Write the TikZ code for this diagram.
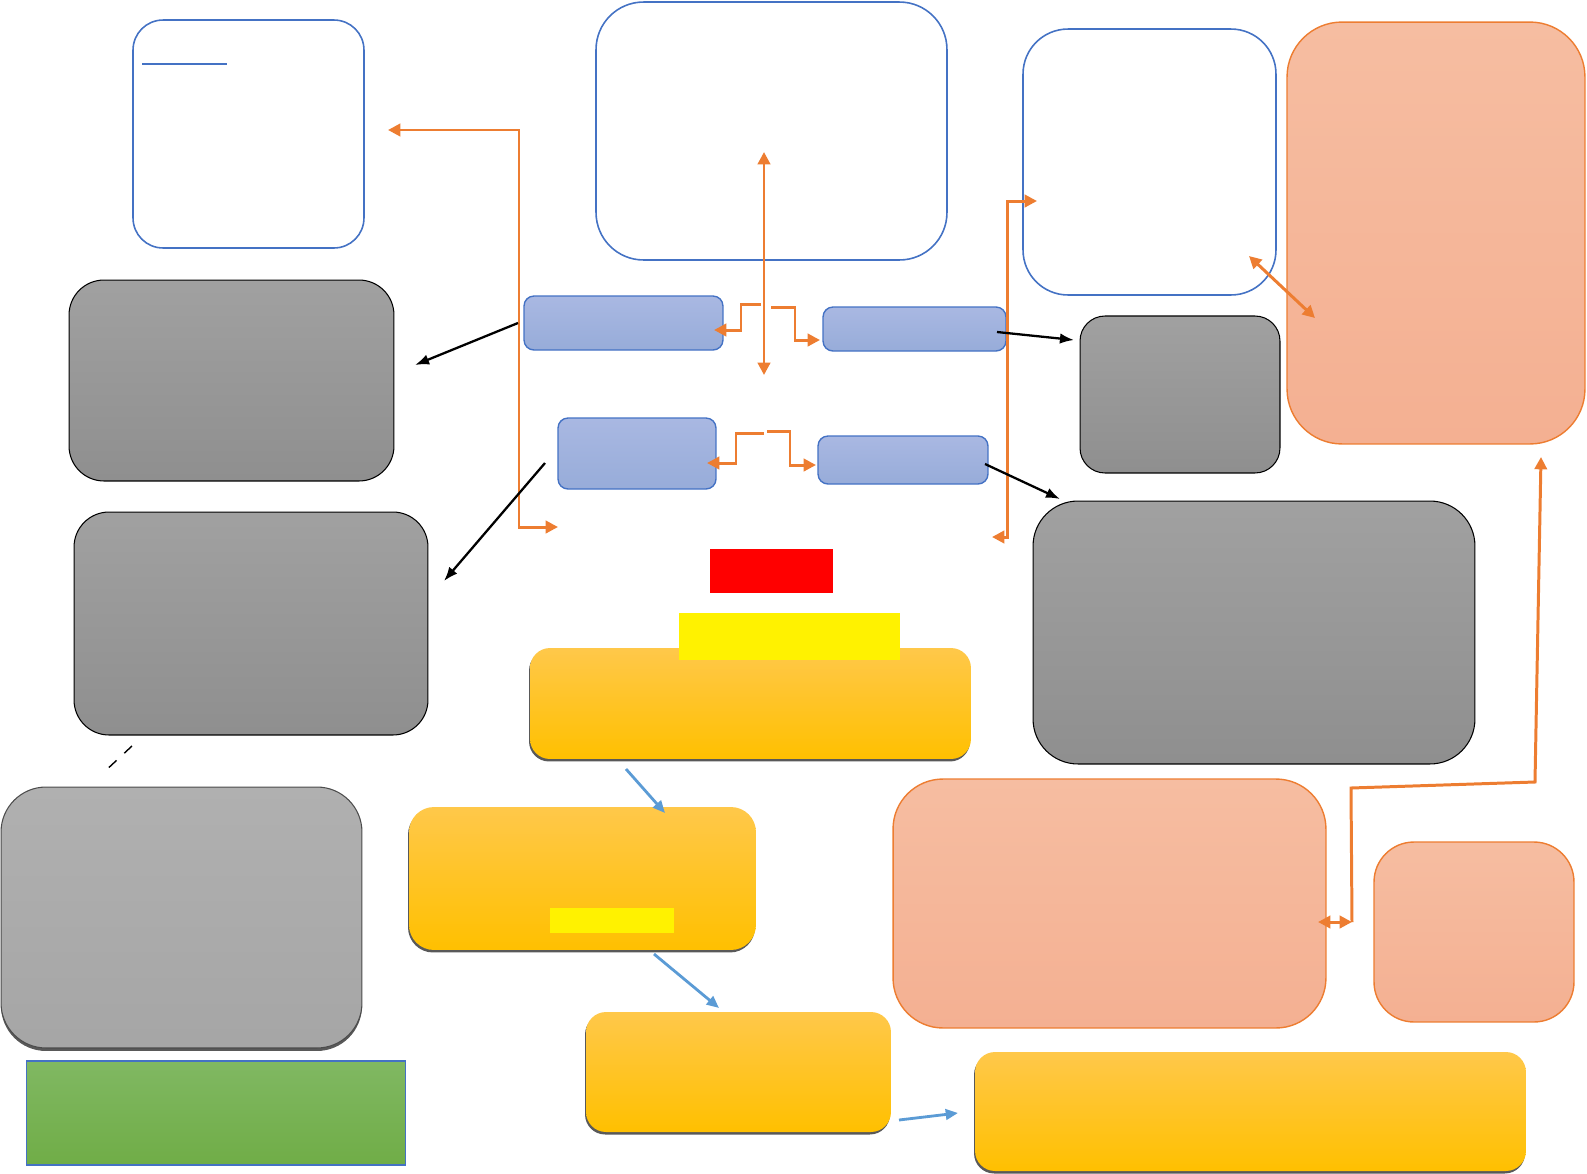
\documentclass[tikz,border=0pt]{standalone}
\usepackage{tikz}
\usetikzlibrary{arrows.meta,shadows}
\definecolor{lineblue}{RGB}{68,114,196}
\definecolor{warmorange}{RGB}{237,125,49}
\definecolor{salmontop}{RGB}{246,189,161}
\definecolor{salmonbot}{RGB}{244,176,146}
\definecolor{chiptop}{RGB}{169,184,226}
\definecolor{chipbot}{RGB}{151,172,217}
\definecolor{ambertop}{RGB}{255,200,74}
\definecolor{amberbot}{RGB}{255,192,0}
\definecolor{skyblue}{RGB}{91,155,213}
\definecolor{leaftop}{RGB}{128,184,98}
\definecolor{leafbot}{RGB}{112,173,71}

\begin{document}
\begin{tikzpicture}[x=0.02cm,y=-0.02cm,>=Latex,
    every node/.style={inner sep=0pt,outer sep=0pt},
    frame/.style={draw=lineblue,line width=0.9pt,fill=white},
    stone/.style={draw=black,line width=0.6pt,top color=black!37,bottom color=black!44},
    peach/.style={draw=warmorange,line width=0.8pt,top color=salmontop,bottom color=salmonbot},
    chip/.style={draw=lineblue,line width=0.8pt,rounded corners=0.2cm,top color=chiptop,bottom color=chipbot},
    amber/.style={rounded corners=0.4cm,top color=ambertop,bottom color=amberbot,
      general shadow={fill=black!65,shadow yshift=-0.05cm,shadow xshift=-0.02cm}},
    olink/.style={draw=warmorange,line width=1.7pt},
    otip/.style={-{Triangle[length=7pt,width=7pt]}},
    otips/.style={{Triangle[length=7pt,width=7pt]}-{Triangle[length=7pt,width=7pt]}},
    blink/.style={draw=black,line width=1.3pt,-{Latex[length=8pt,width=6pt]}},
    slink/.style={draw=skyblue,line width=1.6pt,-{Triangle[length=7pt,width=6pt]}}]
  \useasboundingbox (0,0) rectangle (1587,1174);

  % outlined panels
  \node[frame,rounded corners=0.6cm,minimum width=4.62cm,minimum height=4.56cm] (memo) at (248.5,134) {};
  \draw[lineblue,line width=0.9pt] (142,64) -- (227,64);
  \node[frame,rounded corners=0.95cm,minimum width=7.02cm,minimum height=5.16cm] (hub) at (771.5,131) {};
  \node[frame,rounded corners=0.9cm,minimum width=5.06cm,minimum height=5.32cm] (side) at (1149.5,162) {};
  \node[peach,rounded corners=1.1cm,minimum width=5.96cm,minimum height=8.44cm] (tower) at (1436,233) {};

  % grey blocks
  \node[stone,rounded corners=0.7cm,minimum width=6.5cm,minimum height=4.02cm] (greyA) at (231.5,380.5) {};
  \node[stone,rounded corners=0.7cm,minimum width=7.08cm,minimum height=4.46cm] (greyB) at (251,623.5) {};
  \node[stone,rounded corners=0.5cm,minimum width=4cm,minimum height=3.14cm] (greyC) at (1180,394.5) {};
  \node[stone,rounded corners=0.9cm,minimum width=8.84cm,minimum height=5.26cm] (greyD) at (1254,632.5) {};
  \node[draw=black!70,line width=0.6pt,rounded corners=0.9cm,top color=black!31,bottom color=black!35,
    general shadow={fill=black!65,shadow yshift=-0.06cm},
    minimum width=7.22cm,minimum height=5.22cm] (greyE) at (181.5,917.5) {};
  \node[draw=lineblue,line width=0.6pt,top color=leaftop,bottom color=leafbot,
    minimum width=7.6cm,minimum height=2.08cm] (base) at (216,1113) {};

  % small blue chips
  \node[chip,minimum width=3.98cm,minimum height=1.08cm] (chipA) at (623.5,323) {};
  \node[chip,minimum width=3.66cm,minimum height=0.88cm] (chipB) at (914.5,329) {};
  \node[chip,minimum width=3.16cm,minimum height=1.42cm] (chipC) at (637,453.5) {};
  \node[chip,minimum width=3.4cm,minimum height=0.96cm] (chipD) at (903,460) {};

  % amber chain
  \node[amber,minimum width=8.82cm,minimum height=2.22cm] (stepA) at (750.5,703.5) {};
  \node[fill=red,minimum width=2.46cm,minimum height=0.88cm] (flag) at (771.5,571) {};
  \node[fill=yellow,minimum width=4.42cm,minimum height=0.94cm] (band) at (789.5,636.5) {};
  \node[amber,rounded corners=0.5cm,minimum width=6.94cm,minimum height=2.86cm] (stepB) at (582.5,878.5) {};
  \node[fill=yellow,minimum width=2.48cm,minimum height=0.5cm] (mark) at (612,920.5) {};
  \node[amber,minimum width=6.1cm,minimum height=2.4cm] (stepC) at (738.5,1072) {};
  \node[amber,minimum width=11.02cm,minimum height=2.38cm] (stepD) at (1250.5,1111.5) {};

  % peach blocks below
  \node[peach,rounded corners=1cm,minimum width=8.66cm,minimum height=4.98cm] (peachA) at (1109.5,903.5) {};
  \node[peach,rounded corners=0.8cm,minimum width=4cm,minimum height=3.6cm] (peachB) at (1474,932) {};

  % link ends
  \coordinate (memoIn) at (388,130);
  \coordinate (chipCIn) at (558,527);
  \coordinate (hubIn) at (764,152);
  \coordinate (hubOut) at (764,375);
  \coordinate (splitA) at (761,304);
  \coordinate (splitB) at (771,307);
  \coordinate (splitC) at (764,433);
  \coordinate (splitD) at (767,431);
  \coordinate (sideIn) at (1037,201);
  \coordinate (chipDIn) at (992,537);
  \coordinate (sideCorner) at (1249,256);
  \coordinate (towerIn) at (1315,318);
  \coordinate (towerFoot) at (1541,457);
  \coordinate (peachAIn) at (1318,922);
  \coordinate (peachJoin) at (1352,922);

  % orange links
  \draw[olink,otips] (memoIn) -- (519,130) -- (519,527) -- (chipCIn);
  \draw[olink,otips] (hubIn) -- (hubOut);
  \draw[olink,otip] (splitA) -| (741,330) -- (714,330);
  \draw[olink,otip] (splitB) -| (795,340) -- (820,340);
  \draw[olink,otip] (splitC) -| (736,463) -- (707,463);
  \draw[olink,otip] (splitD) -| (790,465) -- (816,465);
  \draw[olink,otips] (chipDIn) -- (1007,537) -- (1007,201) -- (sideIn);
  \draw[olink,otips] (sideCorner) -- (towerIn);
  \draw[olink,{Triangle[length=7pt,width=7pt]}-] (towerFoot) -- (1535,782) -- (1351,788) -- (peachJoin);
  \draw[olink,otips] (peachAIn) -- (peachJoin);

  % black links
  \coordinate (aFrom) at (518,323);
  \coordinate (aTo) at (415,365);
  \coordinate (bFrom) at (997,332);
  \coordinate (bTo) at (1074,340);
  \coordinate (cFrom) at (545,463);
  \coordinate (cTo) at (444,581);
  \coordinate (dFrom) at (985,464);
  \coordinate (dTo) at (1060,499);
  \coordinate (eFrom) at (132,746);
  \coordinate (eTo) at (103,773);
  \draw[blink] (aFrom) -- (aTo);
  \draw[blink] (bFrom) -- (bTo);
  \draw[blink] (cFrom) -- (cTo);
  \draw[blink] (dFrom) -- (dTo);
  \draw[black,line width=0.8pt,dash pattern=on 6pt off 6pt] (eFrom) -- (eTo);

  % blue links
  \coordinate (fFrom) at (626,769);
  \coordinate (fTo) at (665,813);
  \coordinate (gFrom) at (654,954);
  \coordinate (gTo) at (719,1008);
  \coordinate (hFrom) at (899,1120);
  \coordinate (hTo) at (958,1113);
  \draw[slink] (fFrom) -- (fTo);
  \draw[slink] (gFrom) -- (gTo);
  \draw[slink] (hFrom) -- (hTo);
\end{tikzpicture}
\end{document}
